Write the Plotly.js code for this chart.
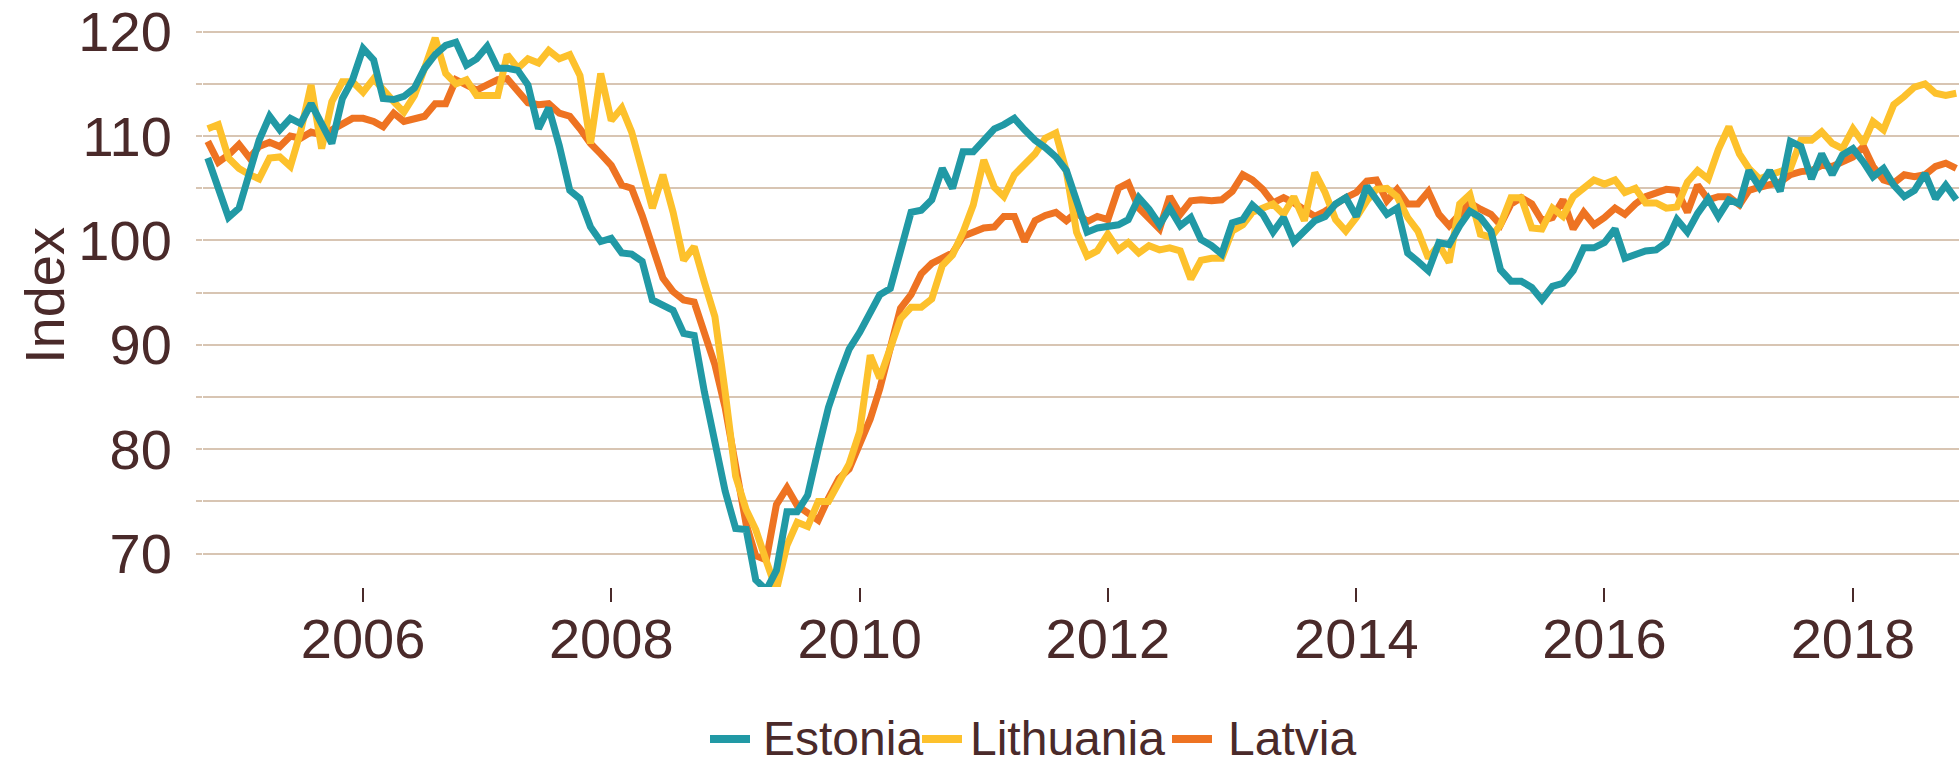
<!DOCTYPE html>
<html>
<head>
<meta charset="utf-8">
<script src="https://cdn.plot.ly/plotly-3.0.1.min.js"></script>
<style>
  html, body { margin: 0; padding: 0; background: #ffffff; }
  #chart { width: 1959px; height: 764px; }
</style>
</head>
<body>
<div id="chart"></div>
<script>
// Monthly series, first month Oct 2004, 170 months
const firstMonth = "2004-10";
const seriesNames = ["Estonia", "Lithuania", "Latvia"];

const estonia = [
 107.9,105.0,102.2,103.1,106.3,109.6,111.9,110.6,111.7,111.2,
 113.1,111.1,109.3,113.6,115.4,118.4,117.3,113.6,113.5,113.8,
 114.6,116.5,117.8,118.7,119.0,116.8,117.4,118.6,116.5,116.5,
 116.3,114.9,110.7,112.7,109.1,104.8,104.0,101.3,99.9,100.2,
 98.8,98.7,98.0,94.3,93.8,93.3,91.1,90.9,85.5,80.8,
 76.0,72.4,72.3,67.5,66.5,68.4,74.0,74.0,75.6,80.0,
 84.0,87.0,89.6,91.2,93.0,94.8,95.4,99.2,102.7,102.9,
 103.9,106.9,105.0,108.5,108.5,109.6,110.7,111.1,111.7,110.6,
 109.6,108.9,108.0,106.7,103.7,100.8,101.2,101.4,101.5,102.0,
 104.1,103.0,101.5,103.1,101.4,102.2,100.1,99.5,98.7,101.7,
 102.0,103.4,102.5,100.8,102.2,99.9,100.9,101.9,102.3,103.5,
 104.1,102.3,105.2,103.9,102.5,103.1,98.8,98.0,97.1,99.8,
 99.6,101.4,102.8,102.2,100.9,97.2,96.1,96.1,95.5,94.3,
 95.6,95.9,97.1,99.3,99.3,99.8,101.1,98.3,98.7,99.0,
 99.1,99.8,102.0,100.8,102.6,104.0,102.3,103.9,103.5,106.7,
 105.1,106.7,104.7,109.5,109.0,105.9,108.3,106.3,108.2,108.8,
 107.5,106.1,106.9,105.3,104.2,104.8,106.4,104.0,105.3,103.9
];

const lithuania = [
 110.7,111.1,107.9,106.9,106.3,105.9,107.9,108.0,107.1,110.4,
 114.9,108.8,113.3,115.2,115.2,114.2,115.5,114.4,113.3,112.3,
 113.9,116.5,119.4,116.0,115.0,115.4,113.9,113.9,113.9,117.8,
 116.5,117.4,117.0,118.2,117.4,117.8,115.8,109.3,116.0,111.5,
 112.7,110.4,106.6,103.1,106.3,102.7,98.1,99.4,96.0,92.7,
 85.5,77.4,74.2,72.3,69.3,66.5,70.8,73.0,72.6,75.0,
 75.0,77.0,78.6,81.7,89.0,86.8,89.8,92.5,93.6,93.6,
 94.4,97.6,98.6,100.8,103.4,107.7,105.1,104.2,106.3,107.4,
 108.3,109.8,110.3,106.6,100.8,98.5,99.0,100.6,99.1,99.8,
 98.8,99.5,99.1,99.3,99.0,96.3,98.1,98.3,98.3,100.9,
 101.5,102.7,103.1,103.5,102.5,104.2,101.9,106.5,104.6,102.0,
 100.9,102.2,103.8,104.9,105.0,104.2,102.2,100.9,98.3,99.6,
 97.9,103.5,104.4,100.6,100.3,101.5,104.1,104.1,101.2,101.1,
 103.1,102.3,104.2,105.0,105.8,105.4,105.8,104.6,105.0,103.6,
 103.6,103.1,103.2,105.6,106.7,105.9,108.7,110.9,108.3,106.9,
 105.9,106.3,106.6,106.9,109.6,109.6,110.4,109.3,108.8,110.7,
 109.3,111.4,110.6,113.0,113.8,114.7,115.0,114.1,113.9,114.1
];

const latvia = [
 109.5,107.5,108.2,109.2,107.9,109.0,109.4,109.0,110.0,109.8,
 110.4,110.1,110.6,111.1,111.7,111.7,111.4,110.9,112.2,111.4,
 111.7,111.9,113.1,113.1,115.4,114.9,114.4,114.9,115.4,115.5,
 114.4,113.2,113.0,113.1,112.2,111.9,110.7,109.3,108.3,107.2,
 105.3,105.0,102.4,99.6,96.4,95.1,94.3,94.1,91.2,88.1,
 84.0,78.5,72.8,69.8,69.4,74.7,76.3,74.6,73.8,73.2,
 75.3,77.2,78.1,80.4,82.9,85.8,90.0,93.5,94.8,96.8,
 97.8,98.4,98.8,100.4,100.8,101.2,101.3,102.3,102.3,99.9,
 101.9,102.4,102.7,101.9,102.7,101.8,102.3,102.0,105.0,105.5,
 103.1,102.0,101.1,104.2,102.5,103.8,103.9,103.8,103.9,104.7,
 106.3,105.8,104.9,103.6,104.1,103.6,103.0,102.3,102.8,103.5,
 104.1,104.6,105.7,105.8,103.8,104.9,103.5,103.5,104.7,102.5,
 101.4,102.5,103.6,103.0,102.5,101.5,103.5,104.1,103.5,101.9,
 102.2,103.9,101.1,102.7,101.5,102.2,103.1,102.5,103.5,104.2,
 104.6,104.9,104.8,102.7,105.3,103.9,104.2,104.2,103.4,104.8,
 105.1,105.3,105.6,106.3,106.6,106.7,107.2,107.1,107.5,108.0,
 109.0,107.1,105.8,105.5,106.3,106.1,106.3,107.1,107.4,106.9
];

const yTickVals = [70, 80, 90, 100, 110, 120];
const yTickText = ["70", "80", "90", "100", "110", "120"];
const yAxisTitle = "Index";

// month labels (categories on a date axis)
function monthList(start, n) {
  const [y0, m0] = start.split("-").map(Number);
  const out = [];
  for (let k = 0; k < n; k++) {
    const t = (m0 - 1) + k;
    const y = y0 + Math.floor(t / 12);
    const m = (t % 12) + 1;
    out.push(y + "-" + String(m).padStart(2, "0") + "-01");
  }
  return out;
}
const months = monthList(firstMonth, estonia.length);

const colors = { Estonia: "#2199A5", Lithuania: "#FDC12C", Latvia: "#EE7322" };
const textColor = "#4A2A2A";
const gridColor = "#D8C5B3";

const dataMap = { Estonia: estonia, Lithuania: lithuania, Latvia: latvia };
const drawOrder = ["Latvia", "Lithuania", "Estonia"];

const traces = drawOrder.map(name => ({
  type: "scatter",
  mode: "lines",
  name: name,
  x: months,
  y: dataMap[name],
  line: { color: colors[name], width: 7, shape: "linear" },
  showlegend: false,
  hoverinfo: "x+y+name"
}));

// Plot area geometry (px) used to place the legend in paper coordinates
const W = 1959, H = 764;
const M = { l: 203, r: 0, t: 5, b: 177 };
const plotW = W - M.l - M.r, plotH = H - M.t - M.b;
const px2x = px => (px - M.l) / plotW;
const px2y = py => (H - M.b - py) / plotH;

// legend entries: swatch start/end and text centre (px)
const legendItems = [
  { name: "Estonia",   sw: [710, 750],   tc: 843 },
  { name: "Lithuania", sw: [922, 962],   tc: 1067 },
  { name: "Latvia",    sw: [1172, 1212], tc: 1292 }
];
const legendY = 738;

const shapes = legendItems.map(it => ({
  type: "line", xref: "paper", yref: "paper",
  x0: px2x(it.sw[0]), x1: px2x(it.sw[1]),
  y0: px2y(legendY + 1), y1: px2y(legendY + 1),
  line: { color: colors[it.name], width: 8 }
}));

const annotations = legendItems.map(it => ({
  text: it.name,
  xref: "paper", yref: "paper",
  x: px2x(it.tc), y: px2y(legendY),
  xanchor: "center", yanchor: "middle",
  showarrow: false,
  font: { family: "Liberation Sans, Arial, sans-serif", size: 48, color: textColor }
}));

annotations.push({
  text: yAxisTitle,
  xref: "paper", yref: "paper",
  x: 0, y: 0.5,
  xanchor: "center", yanchor: "middle",
  xshift: -159,
  textangle: -90,
  showarrow: false,
  font: { size: 56, color: textColor, family: "Liberation Sans, Arial, sans-serif" }
});

const layout = {
  width: W,
  height: H,
  margin: { l: M.l, r: M.r, t: M.t, b: M.b, pad: 0 },
  paper_bgcolor: "#ffffff",
  plot_bgcolor: "#ffffff",
  font: { family: "Liberation Sans, Arial, Helvetica, sans-serif", color: textColor, size: 56 },
  showlegend: false,
  xaxis: {
    type: "date",
    range: ["2004-09-17", "2018-11-09"],
    tick0: "2006-01-01",
    dtick: "M24",
    tickformat: "%Y",
    ticks: "outside",
    ticklen: 14,
    tickwidth: 2,
    tickcolor: textColor,
    ticklabelstandoff: -11,
    showgrid: false,
    zeroline: false,
    showline: false,
    tickfont: { size: 56, color: textColor }
  },
  yaxis: {
    range: [66.8, 122.56],
    tickmode: "array",
    tickvals: yTickVals,
    ticktext: yTickText,
    ticks: "outside",
    ticklen: 6,
    tickcolor: gridColor,
    tickwidth: 2,
    ticklabelstandoff: 13,
    showgrid: true,
    gridcolor: gridColor,
    gridwidth: 2,
    zeroline: false,
    showline: false,
    tickfont: { size: 56, color: textColor },
    minor: {
      dtick: 5, tick0: 70,
      showgrid: true, gridcolor: gridColor, gridwidth: 2,
      ticks: "outside", ticklen: 6, tickcolor: gridColor, tickwidth: 2
    }
  },
  shapes: shapes,
  annotations: annotations
};

Plotly.newPlot("chart", traces, layout, { displayModeBar: false, staticPlot: true });
</script>
</body>
</html>
